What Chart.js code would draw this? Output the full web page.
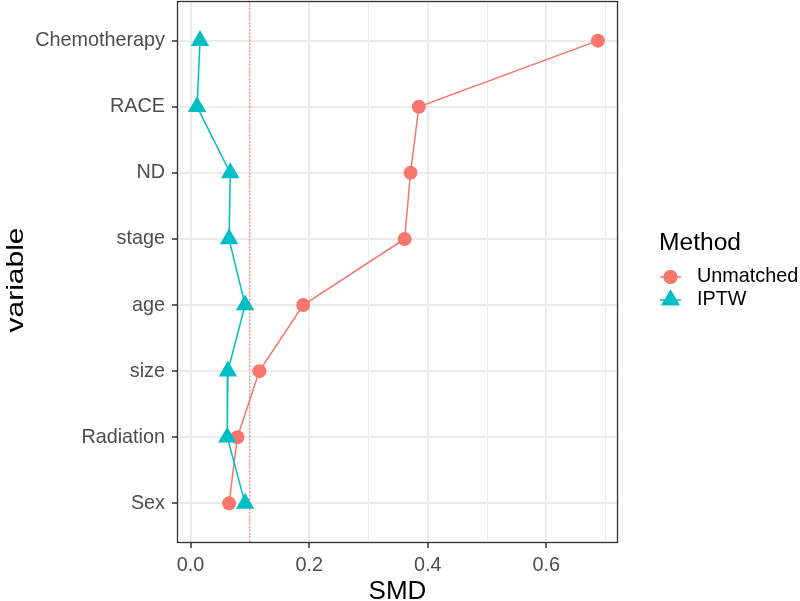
<!DOCTYPE html>
<html><head><meta charset="utf-8">
<script src="https://cdn.jsdelivr.net/npm/chart.js@4.4.1/dist/chart.umd.min.js"></script>
<style>html,body{margin:0;padding:0;background:#fff;}canvas{display:block;}</style>
</head><body>
<canvas id="c" width="800" height="601"></canvas>
<script>
const categories = ['Chemotherapy','RACE','ND','stage','age','size','Radiation','Sex'];
const seriesNames = ['Unmatched','IPTW'];
const unmatched = [0.687,0.385,0.371,0.361,0.190,0.116,0.079,0.065];
const iptw      = [0.016,0.011,0.067,0.065,0.092,0.063,0.062,0.092];
const xTickValues = [0,0.1,0.2,0.3,0.4,0.5,0.6,0.7];
const xTickLabels = ['0.0','','0.2','','0.4','','0.6',''];
const threshold = 0.1;
const xTitle = 'SMD', yTitle = 'variable', legendTitle = 'Method';

const FONT = '"Liberation Sans", Arial, Helvetica, sans-serif';
const SMALL = 19.8;
const COLORS = ['#F8766D','#00BFC4'];
const all = unmatched.concat(iptw);
const lo = Math.min(...all), hi = Math.max(...all), pad = 0.05*(hi-lo);
const xMin = lo - pad, xMax = hi + pad;

const toPts = arr => categories.map((c,i)=>({x:arr[i], y:i+1}));
const noPad = s => { s.paddingTop = 0; s.paddingBottom = 0; s.paddingLeft = 0; s.paddingRight = 0; };

const deco = {
  id:'deco',
  beforeDatasetsDraw(chart){
    const c = chart.ctx, a = chart.chartArea;
    const x = chart.scales.x.getPixelForValue(threshold);
    c.save();
    c.strokeStyle = 'rgba(255,40,40,0.85)';
    c.lineWidth = 0.8;
    c.setLineDash([2,1.5]);
    c.beginPath(); c.moveTo(x, a.top); c.lineTo(x, a.bottom); c.stroke();
    c.restore();
  },
  afterDraw(chart){
    const c = chart.ctx, a = chart.chartArea;
    c.save();
    c.strokeStyle = '#333333'; c.lineWidth = 1.3;
    c.strokeRect(a.left+0.5, a.top+0.5, a.right-a.left-1, a.bottom-a.top-1);
    c.fillStyle = '#000';
    c.font = '26px ' + FONT;
    c.textAlign = 'center'; c.textBaseline = 'alphabetic';
    c.fillText(xTitle, (a.left+a.right)/2, 599);
    c.save();
    c.translate(23, 280);
    c.rotate(-Math.PI/2);
    c.scale(1.25,1);
    c.font = '24px ' + FONT;
    c.textAlign = 'center'; c.textBaseline = 'alphabetic';
    c.fillText(yTitle, 0, 0);
    c.restore();
    c.font = '24.6px ' + FONT;
    c.textAlign = 'left'; c.textBaseline = 'alphabetic';
    c.fillText(legendTitle, 659, 250);
    const kx = 670.5, ys = [277, 300];
    chart.data.datasets.forEach((ds, i) => {
      const y = ys[i];
      c.strokeStyle = ds.borderColor; c.lineWidth = 1.5;
      c.beginPath(); c.moveTo(660, y); c.lineTo(681, y); c.stroke();
      c.fillStyle = ds.backgroundColor;
      Chart.helpers.drawPoint(c, {pointStyle: ds.pointStyle, radius: ds.pointRadius, borderWidth: 0}, kx, y);
      c.fill();
      c.fillStyle = '#000';
      c.font = SMALL + 'px ' + FONT;
      c.textBaseline = 'middle';
      c.fillText(ds.label, 697, y);
    });
    c.restore();
  }
};

new Chart(document.getElementById('c'), {
  type: 'line',
  data: { datasets: [
    { label: seriesNames[0], data: toPts(unmatched), borderColor: COLORS[0], backgroundColor: COLORS[0],
      pointStyle: 'circle', pointRadius: 7, pointBorderWidth: 0, pointHoverRadius: 7,
      borderWidth: 1.5, tension: 0, fill: false, order: 2 },
    { label: seriesNames[1], data: toPts(iptw), borderColor: COLORS[1], backgroundColor: COLORS[1],
      pointStyle: 'triangle', pointRadius: 10.6, pointBorderWidth: 0, pointHoverRadius: 10.6,
      borderWidth: 1.5, tension: 0, fill: false, order: 1 }
  ]},
  options: {
    responsive: false, devicePixelRatio: 1, animation: false,
    layout: { autoPadding: false, padding: { top: 1, right: 182, bottom: 0, left: 0 } },
    plugins: { legend: { display: false }, tooltip: { enabled: false } },
    scales: {
      x: {
        type: 'linear', min: xMin, max: xMax,
        afterBuildTicks: s => { s.ticks = xTickValues.map(v => ({ value: v })); },
        afterFit: s => { s.height = 58; noPad(s); },
        border: { display: false },
        grid: {
          color: '#ebebeb',
          lineWidth: ctx => (ctx.index % 2 === 0 ? 2 : 1),
          tickLength: 5,
          tickColor: ctx => (ctx.index % 2 === 0 ? '#333333' : 'rgba(0,0,0,0)'),
          tickWidth: 1.5
        },
        ticks: { callback: (v, i) => xTickLabels[i], font: { family: FONT, size: SMALL }, color: '#4d4d4d',
                 padding: 6, maxRotation: 0, autoSkip: false }
      },
      y: {
        type: 'linear', min: 0.4, max: 8.6, reverse: true,
        afterBuildTicks: s => { s.ticks = categories.map((c, i) => ({ value: i + 1 })); },
        afterFit: s => { s.width = 177; noPad(s); },
        border: { display: false },
        grid: { color: '#ebebeb', lineWidth: 2, tickLength: 5, tickColor: '#333333', tickWidth: 1.5 },
        ticks: { callback: (v, i) => categories[i], font: { family: FONT, size: SMALL }, color: '#4d4d4d',
                 padding: 7, autoSkip: false }
      }
    }
  },
  plugins: [deco]
});
</script>
</body></html>
